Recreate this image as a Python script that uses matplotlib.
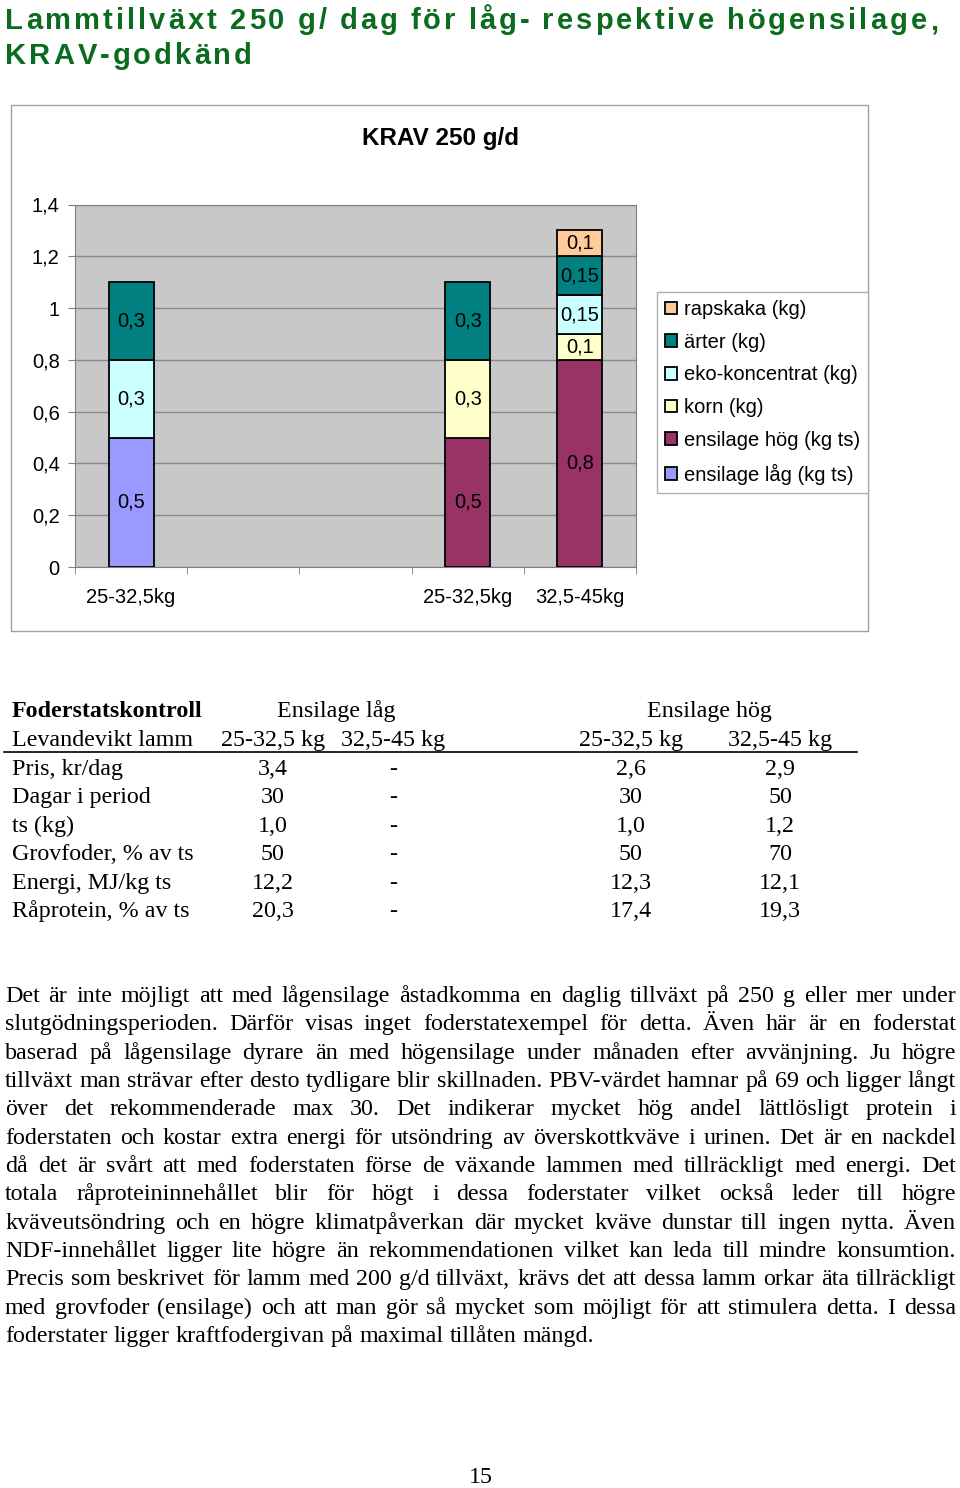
import matplotlib
matplotlib.use('Agg')
import matplotlib.pyplot as plt
import numpy as np
from matplotlib.patches import Rectangle
from matplotlib.lines import Line2D

# --- data ---
categories = ['25-32,5kg', '', '', '25-32,5kg', '32,5-45kg']
ensilage_lag = [0.5, 0, 0, 0, 0]
ensilage_hog = [0, 0, 0, 0.5, 0.8]
korn = [0, 0, 0, 0.3, 0.1]
eko_koncentrat = [0.3, 0, 0, 0, 0.15]
arter = [0.3, 0, 0, 0.3, 0.15]
rapskaka = [0, 0, 0, 0, 0.1]

series_names = ['ensilage låg (kg ts)', 'ensilage hög (kg ts)', 'korn (kg)',
                'eko-koncentrat (kg)', 'ärter (kg)', 'rapskaka (kg)']
series_values = [ensilage_lag, ensilage_hog, korn, eko_koncentrat, arter, rapskaka]
series_colors = ['#9999ff', '#993366', '#ffffcc', '#ccffff', '#008080', '#ffcc99']

yticks = [0, 0.2, 0.4, 0.6, 0.8, 1.0, 1.2, 1.4]

# feed ration table
table_rows = ['Pris, kr/dag', 'Dagar i period', 'ts (kg)', 'Grovfoder, % av ts',
              'Energi, MJ/kg ts', 'Råprotein, % av ts']
lag_25 = ['3,4', '30', '1,0', '50', '12,2', '20,3']
lag_32 = ['-', '-', '-', '-', '-', '-']
hog_25 = ['2,6', '30', '1,0', '50', '12,3', '17,4']
hog_32 = ['2,9', '50', '1,2', '70', '12,1', '19,3']

title_lines = ['Lammtillväxt 250 g/ dag för låg- respektive högensilage,',
               'KRAV-godkänd']

paragraph = [
    'Det är inte möjligt att med lågensilage åstadkomma en daglig tillväxt på 250 g eller mer under',
    'slutgödningsperioden. Därför visas inget foderstatexempel för detta. Även här är en foderstat',
    'baserad på lågensilage dyrare än med högensilage under månaden efter avvänjning. Ju högre',
    'tillväxt man strävar efter desto tydligare blir skillnaden. PBV-värdet hamnar på 69 och ligger långt',
    'över det rekommenderade max 30. Det indikerar mycket hög andel lättlösligt protein i',
    'foderstaten och kostar extra energi för utsöndring av överskottkväve i urinen. Det är en nackdel',
    'då det är svårt att med foderstaten förse de växande lammen med tillräckligt med energi. Det',
    'totala råproteininnehållet blir för högt i dessa foderstater vilket också leder till högre',
    'kväveutsöndring och en högre klimatpåverkan där mycket kväve dunstar till ingen nytta. Även',
    'NDF-innehållet ligger lite högre än rekommendationen vilket kan leda till mindre konsumtion.',
    'Precis som beskrivet för lamm med 200 g/d tillväxt, krävs det att dessa lamm orkar äta tillräckligt',
    'med grovfoder (ensilage) och att man gör så mycket som möjligt för att stimulera detta. I dessa',
    'foderstater ligger kraftfodergivan på maximal tillåten mängd.',
]


def fmt(v):
    return f'{v:g}'.replace('.', ',')


W, H = 960, 1488
fig = plt.figure(figsize=(9.6, 14.88), dpi=100)
renderer = fig.canvas.get_renderer()


def fx(x):
    return x / W


def fy(y):
    return 1 - y / H


def measure(s, **kw):
    t = fig.text(0, 0, s, **kw)
    w = t.get_window_extent(renderer).width
    t.remove()
    return w


SANS = ['Liberation Sans', 'DejaVu Sans']
SERIF = ['Liberation Serif', 'DejaVu Serif']
CHART_FS = 14.5

### title, letter spaced ###
tkw = dict(family=SANS, weight='bold', fontsize=21, color='#0b6b1e')
space_w = 7
chars = title_lines[0]
widths = [space_w if c == ' ' else measure(c, **tkw) for c in chars]
track = (938 - 5 - sum(widths)) / (len(chars) - 1)
for line, base in zip(title_lines, [29, 64]):
    xpos = 5
    for c in line:
        if c != ' ':
            fig.text(fx(xpos), fy(base), c, va='baseline', ha='left', **tkw)
        xpos += (space_w if c == ' ' else measure(c, **tkw)) + track

### chart ###
frame = Rectangle((fx(11), fy(631)), (868 - 11) / W, (631 - 105) / H,
                  transform=fig.transFigure, fill=False, edgecolor='#a0a0a0', lw=1)
fig.patches.append(frame)
fig.text(fx(440), fy(139), 'KRAV 250 g/d', ha='center', va='center',
         family=SANS, weight='bold', fontsize=17.5)

ax = fig.add_axes([fx(75), fy(567), (636 - 75) / W, (567 - 204.5) / H])
ax.set_facecolor('#c8c8c8')
x = np.arange(len(categories))
bottom = np.zeros(len(categories))
for name, vals, col in zip(series_names, series_values, series_colors):
    vals = np.array(vals, dtype=float)
    m = vals > 0
    bars = ax.bar(x[m], vals[m], 0.4, bottom=bottom[m], color=col,
                  edgecolor='black', linewidth=1.3, label=name, zorder=3)
    ax.bar_label(bars, labels=[fmt(v) for v in vals[m]], label_type='center',
                 fontsize=CHART_FS, family=SANS)
    bottom += vals

ax.set_xlim(-0.5, len(categories) - 0.5)
ax.set_ylim(0, 1.4)
ax.set_yticks(yticks)
ax.set_yticklabels([fmt(t) for t in yticks], family=SANS, fontsize=CHART_FS)
ax.set_xticks(x)
ax.set_xticklabels(categories, family=SANS, fontsize=CHART_FS)
ax.set_xticks(np.arange(-0.5, len(categories)), minor=True)
ax.tick_params(axis='x', which='major', length=0, pad=15)
ax.tick_params(axis='x', which='minor', length=5, color='#808080')
ax.tick_params(axis='y', length=5, color='#808080', pad=6)
ax.yaxis.grid(True, color='#8a8a8a', lw=1)
ax.set_axisbelow(True)
for sp in ax.spines.values():
    sp.set_color('#808080')

h, l = ax.get_legend_handles_labels()
fig.legend(h[::-1], l[::-1], loc='upper left', bbox_to_anchor=(fx(657), fy(292)),
           bbox_transform=fig.transFigure, fancybox=False, edgecolor='#b0b0b0',
           prop={'family': SANS, 'size': CHART_FS}, handlelength=0.6, handleheight=0.6,
           handletextpad=0.35, labelspacing=0.68, borderpad=0.4, borderaxespad=0,
           framealpha=1)

### table ###
fs_body = 16
last_w = measure(paragraph[-1], family=SERIF, fontsize=fs_body)
fs_body = fs_body * (593 - 5) / last_w
skw = dict(family=SERIF, fontsize=fs_body, va='baseline')

fig.text(fx(12), fy(717), 'Foderstatskontroll', weight='bold', **skw)
fig.text(fx(336), fy(717), 'Ensilage låg', ha='center', **skw)
fig.text(fx(709), fy(717), 'Ensilage hög', ha='center', **skw)
fig.text(fx(12), fy(746), 'Levandevikt lamm', **skw)
col_x = [273, 393, 631, 780]
for cx, head in zip(col_x, ['25-32,5 kg', '32,5-45 kg', '25-32,5 kg', '32,5-45 kg']):
    fig.text(fx(cx), fy(746), head, ha='center', **skw)
fig.add_artist(Line2D([fx(4), fx(857)], [fy(752), fy(752)], color='black', lw=1.2))
for i, lab in enumerate(table_rows):
    yb = 775 + 28.4 * i
    fig.text(fx(12), fy(yb), lab, **skw)
    for cx, col in zip(col_x, [lag_25, lag_32, hog_25, hog_32]):
        fig.text(fx(cx), fy(yb), col[i], ha='center', **skw)

### justified paragraph ###
for i, line in enumerate(paragraph):
    yb = 1002 + 28.33 * i
    words = line.split(' ')
    ww = [measure(w, family=SERIF, fontsize=fs_body) for w in words]
    if i == len(paragraph) - 1:
        gap = measure('a a', family=SERIF, fontsize=fs_body) - measure('aa', family=SERIF, fontsize=fs_body)
    else:
        gap = (956 - 5 - sum(ww)) / (len(words) - 1)
    xpos = 5
    for w, wdt in zip(words, ww):
        fig.text(fx(xpos), fy(yb), w, **skw)
        xpos += wdt + gap

fig.text(fx(481), fy(1483), '15', ha='center', **skw)

fig.savefig('out.png', dpi=100)
